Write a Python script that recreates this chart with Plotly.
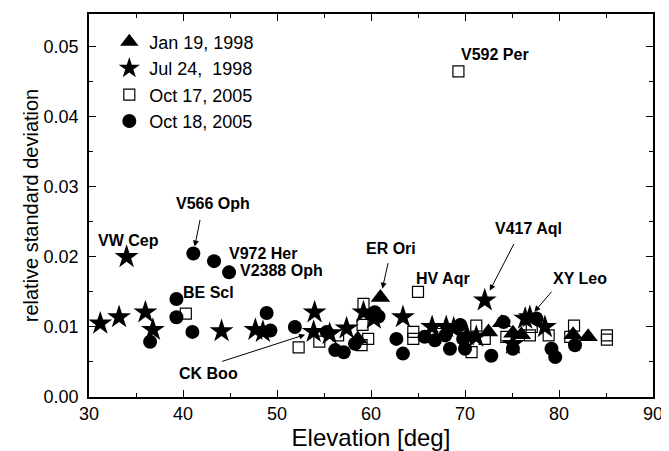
import plotly.graph_objects as go

# ---- data ----
tri_x = [61.0, 58.6, 72.5, 73.9, 75.1, 76.0, 81.5, 83.1]
tri_y = [0.0142, 0.0083, 0.0093, 0.0106, 0.0091, 0.0089, 0.0089, 0.0086]

star_x = [31.2, 33.2, 34.0, 36.0, 36.8, 44.1, 47.7, 48.5, 54.0, 53.9, 55.6, 57.4, 59.2,
          60.3, 63.4, 66.5, 68.0, 68.8, 70.2, 71.2, 72.1, 75.1, 76.4, 76.9, 78.5]
star_y = [0.0105, 0.0114, 0.0200, 0.0121, 0.0096, 0.0094, 0.0096, 0.0093, 0.0121, 0.0093,
          0.0090, 0.0098, 0.0121, 0.0112, 0.0114, 0.0100, 0.0100, 0.0098, 0.0088, 0.0086,
          0.0138, 0.0076, 0.0112, 0.0114, 0.0100]

sq_x = [40.3, 52.3, 54.5, 56.5, 59.2, 59.1, 59.7, 59.0, 65.0, 64.5, 64.5, 66.5, 67.5,
        69.3, 70.7, 71.2, 72.1, 74.4, 76.9, 77.1, 78.9, 81.2, 81.6, 85.1, 85.1]
sq_y = [0.0119, 0.0071, 0.0079, 0.0088, 0.0133, 0.0103, 0.0083, 0.0074, 0.0150, 0.0093,
        0.0083, 0.0086, 0.0090, 0.0465, 0.0064, 0.0102, 0.0083, 0.0086, 0.0088, 0.0100,
        0.0088, 0.0086, 0.0102, 0.0088, 0.0082]

circ_x = [36.5, 39.3, 39.3, 41.0, 41.1, 43.3, 44.9, 48.9, 49.3, 51.9, 55.3, 56.2, 57.1,
          58.3, 60.4, 60.8, 62.7, 63.4, 65.7, 66.8, 67.9, 68.4, 69.5, 69.8, 70.0, 72.8,
          74.1, 75.1, 77.6, 79.2, 79.6, 81.7]
circ_y = [0.0079, 0.0140, 0.0114, 0.0093, 0.0205, 0.0194, 0.0178, 0.0120, 0.0095, 0.0100,
          0.0093, 0.0067, 0.0064, 0.0076, 0.0121, 0.0115, 0.0083, 0.0062, 0.0086, 0.0081,
          0.0088, 0.0069, 0.0103, 0.0083, 0.0069, 0.0059, 0.0107, 0.0069, 0.0112, 0.0069,
          0.0057, 0.0074]

series_names = ["Jan 19, 1998", "Jul 24,\u00a0 1998", "Oct 17, 2005", "Oct 18, 2005"]

x_ticks = [30, 40, 50, 60, 70, 80, 90]
y_ticks = [0.00, 0.01, 0.02, 0.03, 0.04, 0.05]

# ---- layout geometry (page pixels; the page body has an 8px margin) ----
OFF = 8
PAGE_W, PAGE_H = 669, 451
PL, PR, PT, PB = 89, 653, 12, 397   # plot area in page pixels
W, H = PAGE_W - OFF, PAGE_H - OFF
ML, MT = PL - OFF, PT - OFF
MR, MB = PAGE_W - PR, PAGE_H - PB
XR = [30, 90]
YR = [0, 0.0547]

def px2x(p):
    return XR[0] + (p - PL) / (PR - PL) * (XR[1] - XR[0])

def px2y(p):
    return YR[0] + (PB - p) / (PB - PT) * (YR[1] - YR[0])

FONT = "Arial, Liberation Sans, Helvetica, sans-serif"

fig = go.Figure()
fig.add_trace(go.Scatter(x=tri_x, y=tri_y, mode="markers", name=series_names[0],
                         marker=dict(symbol="triangle-up", size=17, color="black", line=dict(width=0))))
fig.add_trace(go.Scatter(x=star_x, y=star_y, mode="markers", name=series_names[1],
                         marker=dict(symbol="star", size=18, color="black", line=dict(width=0))))
fig.add_trace(go.Scatter(x=sq_x, y=sq_y, mode="markers", name=series_names[2],
                         marker=dict(symbol="square-open", size=11, color="black", line=dict(width=1.2))))
fig.add_trace(go.Scatter(x=circ_x, y=circ_y, mode="markers", name=series_names[3],
                         marker=dict(symbol="circle", size=14, color="black", line=dict(width=0))))

ann = []
labels = [
    ("V592 Per", 495, 53),
    ("VW Cep", 128, 240),
    ("V566 Oph", 213, 202),
    ("V972 Her", 263, 253),
    ("V2388 Oph", 281, 270),
    ("BE Scl", 208, 292),
    ("CK Boo", 208, 373),
    ("ER Ori", 391, 248),
    ("HV Aqr", 443, 278),
    ("V417 Aql", 528, 228),
    ("XY Leo", 580, 278),
]
for t, px, py in labels:
    ann.append(dict(x=px2x(px), y=px2y(py), xref="x", yref="y", text="<b>%s</b>" % t,
                    showarrow=False, font=dict(family=FONT, size=16, color="black"),
                    xanchor="center", yanchor="middle"))

# arrows: (target x, target y, tail dx px, tail dy px, standoff)
arrows = [
    (circ_x[4], circ_y[4], 7, -35, 7),      # V566 Oph
    (tri_x[0], tri_y[0], 8, -36, 9),        # ER Ori
    (star_x[20], star_y[20], 30, -58, 11),  # V417 Aql
    (star_x[23], star_y[23], 23, -27, 7),   # XY Leo
    (star_x[9], star_y[9], -93, 30, 9),     # CK Boo
]
for tx, ty, dx, dy, so in arrows:
    ann.append(dict(x=tx, y=ty, xref="x", yref="y", text="", showarrow=True,
                    ax=dx, ay=dy, arrowhead=2, arrowsize=1.2, arrowwidth=1,
                    arrowcolor="black", standoff=so))

axis_common = dict(showline=True, linecolor="black", linewidth=1.5, mirror="allticks",
                   ticks="inside", ticklen=7, tickwidth=1, tickcolor="black",
                   showgrid=False, zeroline=False,
                   tickfont=dict(family=FONT, size=18, color="black"))

fig.update_layout(
    width=W, height=H,
    margin=dict(l=ML, r=MR, t=MT, b=MB),
    plot_bgcolor="white", paper_bgcolor="white",
    xaxis=dict(range=XR, tickvals=x_ticks, ticktext=[str(v) for v in x_ticks],
               minor=dict(ticks="inside", ticklen=4, dtick=5, tickcolor="black"),
               title=dict(text="Elevation [deg]", font=dict(family=FONT, size=24, color="black"),
                          standoff=4),
               **axis_common),
    yaxis=dict(range=YR, tickvals=y_ticks, ticktext=["%.2f\u00a0" % v for v in y_ticks],
               minor=dict(ticks="inside", ticklen=4, dtick=0.005, tickcolor="black"),
               title=dict(text="relative standard deviation", font=dict(family=FONT, size=20, color="black"),
                          standoff=0),
               **axis_common),
    legend=dict(x=0.036, y=0.975, xanchor="left", yanchor="top", bgcolor="rgba(0,0,0,0)",
                font=dict(family=FONT, size=18, color="black"), tracegroupgap=0),
    annotations=ann,
    showlegend=True,
)

fig.write_html("out.html")
